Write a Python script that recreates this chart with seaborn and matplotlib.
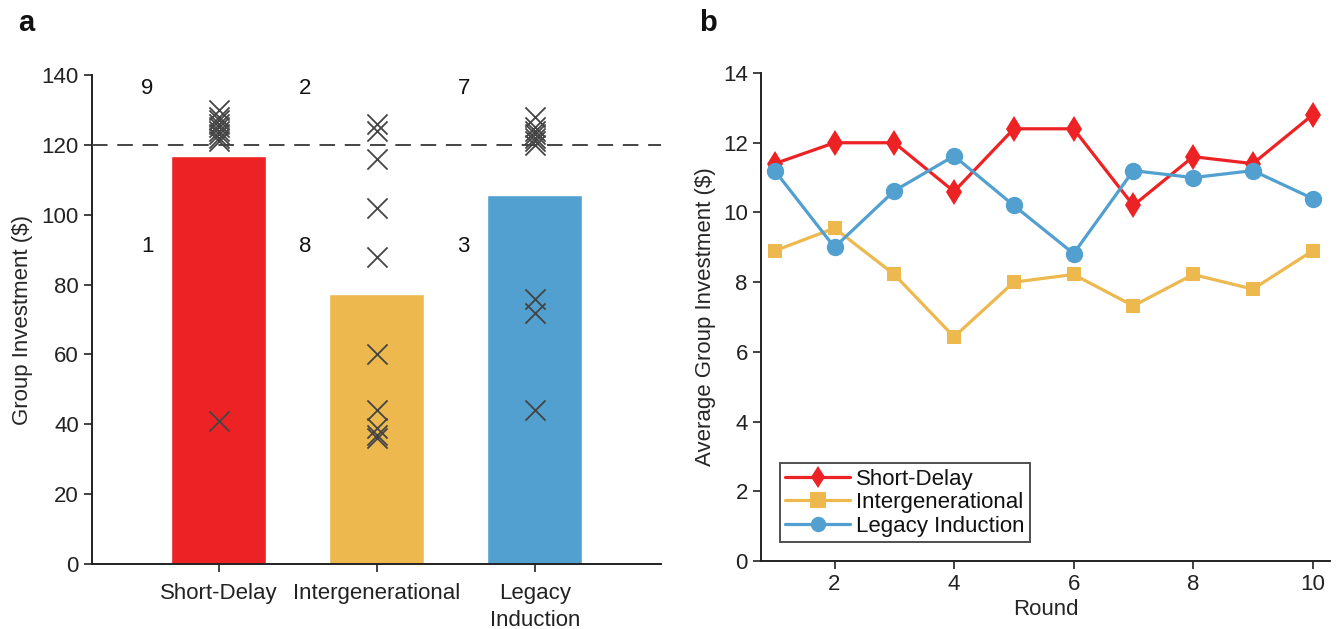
import numpy as np
import pandas as pd
import matplotlib
matplotlib.use("Agg")
import matplotlib.pyplot as plt
import seaborn as sns

# ---------------- data ----------------
conditions = ["Short-Delay", "Intergenerational", "Legacy Induction"]
tick_labels = ["Short-Delay", "Intergenerational", "Legacy\nInduction"]
short_delay_groups = [130, 128, 127, 126, 125, 124, 123, 122, 121, 41]
intergen_groups = [126, 124, 116, 102, 88, 60, 44, 39, 37, 36]
legacy_groups = [128, 125, 124, 123, 122, 121, 120, 76, 72, 44]
threshold = 120

rounds = [1, 2, 3, 4, 5, 6, 7, 8, 9, 10]
short_delay_rounds = [11.4, 12.0, 12.0, 10.6, 12.4, 12.4, 10.2, 11.6, 11.4, 12.8]
intergen_rounds = [8.9, 9.55, 8.22, 6.43, 8.0, 8.22, 7.32, 8.22, 7.8, 8.9]
legacy_rounds = [11.2, 9.0, 10.62, 11.62, 10.2, 8.82, 11.2, 11.0, 11.2, 10.4]

colors = {"Short-Delay": "#ED2224", "Intergenerational": "#EDB94E", "Legacy Induction": "#51A0D0"}
markers = {"Short-Delay": "d", "Intergenerational": "s", "Legacy Induction": "o"}

FS = 16

# ---------------- style ----------------
sns.set_style("ticks")
plt.rcParams["font.family"] = ["Liberation Sans", "DejaVu Sans"]
plt.rcParams["axes.edgecolor"] = "#222222"
plt.rcParams["xtick.color"] = "#222222"
plt.rcParams["ytick.color"] = "#222222"
plt.rcParams["text.color"] = "#111111"

fig = plt.figure(figsize=(13.36, 6.29), dpi=100)
axA = fig.add_axes([0.0689, 0.1033, 0.4260, 0.7775])
axB = fig.add_axes([0.5696, 0.1081, 0.4259, 0.7758])

# ---------------- panel a ----------------
group_df = pd.DataFrame({
    "Condition": np.repeat(conditions, 10),
    "Investment": short_delay_groups + intergen_groups + legacy_groups,
})
sns.barplot(data=group_df, x="Condition", y="Investment", hue="Condition",
            order=conditions, palette=colors, errorbar=None, width=0.6,
            saturation=1, legend=False, ax=axA)
sns.stripplot(data=group_df, x="Condition", y="Investment", order=conditions,
              jitter=False, marker="x", color="#444444", size=14.5, linewidth=1.3,
              ax=axA, zorder=5, clip_on=False)
axA.axhline(threshold, color="#444444", lw=1.4, dashes=(8, 5), zorder=4)

groups = [short_delay_groups, intergen_groups, legacy_groups]
for i, g in enumerate(groups):
    above = sum(v >= threshold for v in g)
    below = len(g) - above
    axA.text(i - 0.45, 136, str(above), ha="center", va="center", fontsize=FS)
    axA.text(i - 0.45, 91, str(below), ha="center", va="center", fontsize=FS)

axA.set_xlim(-0.8, 2.8)
axA.set_ylim(0, 140)
axA.set_yticks(np.arange(0, 141, 20))
axA.set_xticks(range(3))
axA.set_xticklabels(tick_labels, fontsize=FS, linespacing=1.35)
axA.tick_params(axis="y", labelsize=FS, length=6, width=1.2)
axA.tick_params(axis="x", length=6, width=1.2, pad=8)
axA.set_xlabel("")
axA.set_ylabel("Group Investment ($)", fontsize=FS, labelpad=6)
sns.despine(ax=axA)
for s in axA.spines.values():
    s.set_linewidth(1.4)

# ---------------- panel b ----------------
round_df = pd.DataFrame({
    "Round": rounds * 3,
    "Investment": short_delay_rounds + intergen_rounds + legacy_rounds,
    "Condition": np.repeat(conditions, len(rounds)),
})
sns.lineplot(data=round_df, x="Round", y="Investment", hue="Condition",
             style="Condition", hue_order=conditions, style_order=conditions,
             palette=colors, markers=markers, dashes=False, lw=2.3,
             markersize=13, markeredgewidth=0, ax=axB, clip_on=False)
for line, c in zip(axB.get_lines(), conditions):
    if c == "Intergenerational":
        line.set_markersize(10.5)
    elif c == "Legacy Induction":
        line.set_markersize(12.5)

axB.set_xlim(0.77, 10.29)
axB.set_ylim(0, 14)
axB.set_xticks([2, 4, 6, 8, 10])
axB.set_yticks(np.arange(0, 15, 2))
axB.tick_params(labelsize=FS, length=6, width=1.2)
axB.set_xlabel("Round", fontsize=FS, labelpad=3)
axB.set_ylabel("Average Group Investment ($)", fontsize=FS, labelpad=5)
sns.despine(ax=axB)
for s in axB.spines.values():
    s.set_linewidth(1.4)

leg = axB.legend(loc="lower left", bbox_to_anchor=(0.033, 0.038), fontsize=FS,
                 frameon=True, fancybox=False, edgecolor="#222222",
                 handlelength=2.9, handletextpad=0.3, borderpad=0.25,
                 labelspacing=0.12, borderaxespad=0, markerscale=0.85)
leg.get_frame().set_linewidth(1.4)
leg.set_title(None)

fig.text(0.0135, 0.963, "a", fontsize=21, fontweight="bold", ha="left", va="center")
fig.text(0.523, 0.963, "b", fontsize=21, fontweight="bold", ha="left", va="center")

fig.savefig("out.png", dpi=100)
